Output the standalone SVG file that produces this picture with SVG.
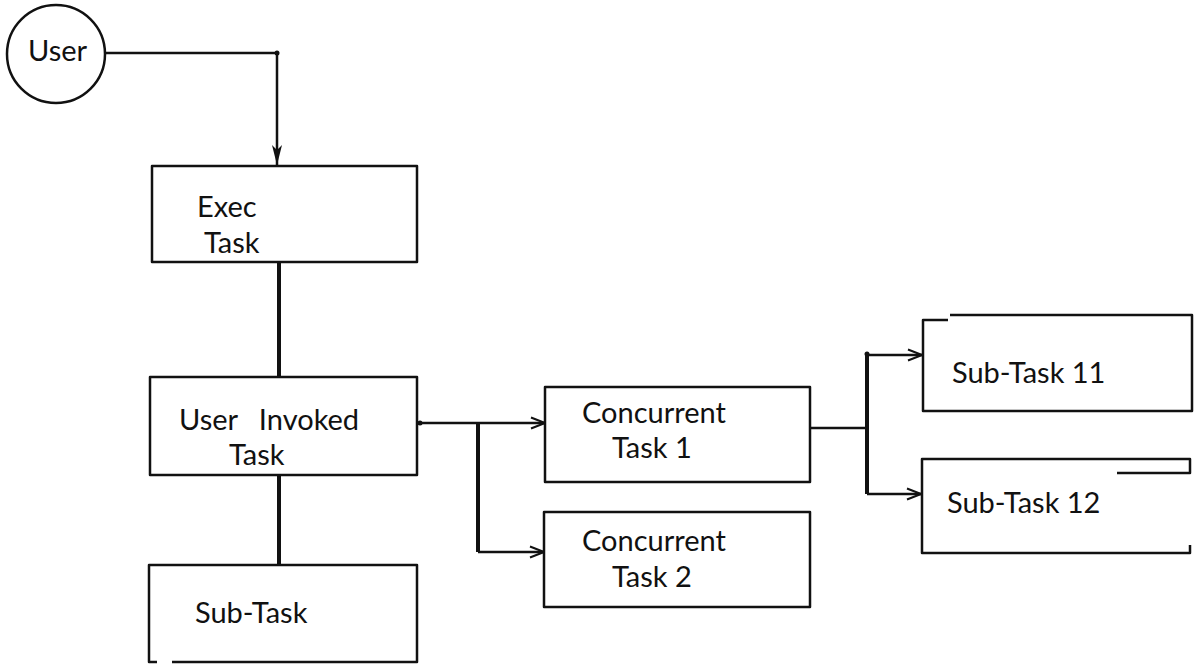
<svg xmlns="http://www.w3.org/2000/svg" width="1197" height="665" viewBox="0 0 1197 665">
  <defs>
    <marker id="open" viewBox="0 0 16 14" refX="15" refY="7" markerWidth="16" markerHeight="14" markerUnits="userSpaceOnUse" orient="auto">
      <path d="M1,1.5 L15,7 L1,12.5" fill="none" stroke="#111" stroke-width="2"/>
    </marker>
    <marker id="solid" viewBox="0 0 20 12" refX="20" refY="6" markerWidth="20" markerHeight="12" markerUnits="userSpaceOnUse" orient="auto">
      <path d="M0,1 L20,6 L0,11 L5,6 Z" fill="#111"/>
    </marker>
  </defs>
  <style>
    .box { fill: none; stroke: #111; stroke-width: 2.5; stroke-linejoin: round; }
    .lbl { font-family: Lato, "Open Sans", "Liberation Sans", sans-serif; font-size: 29px; fill: #111; }
    .thin { fill: none; stroke: #111; stroke-width: 2.5; }
    .thick { fill: none; stroke: #111; stroke-width: 4; }
  </style>
  <rect width="1197" height="665" fill="#fff"/>

  <g id="connectors">
    <path class="thin" d="M106,53 H277 V165" marker-end="url(#solid)"/>
    <circle cx="277" cy="53" r="2.5" fill="#111"/>
    <path class="thick" d="M279,262 V377"/>
    <path class="thick" d="M279,475 V565"/>
    <path class="thin" d="M417,423 H545" marker-end="url(#open)"/>
    <circle cx="420" cy="423" r="2.5" fill="#111"/>
    <path class="thick" d="M478,423 V552"/>
    <path class="thin" d="M478,552 H544" marker-end="url(#open)"/>
    <path class="thin" d="M810,428 H867" stroke-width="3.5"/>
    <path class="thick" d="M867,355 V494"/>
    <path class="thin" d="M867,355 H922" marker-end="url(#open)"/>
    <circle cx="867" cy="354" r="2.5" fill="#111"/>
    <path class="thin" d="M867,494 H921" marker-end="url(#open)"/>
  </g>

  <g id="user">
    <circle cx="56" cy="54" r="49" fill="none" stroke="#111" stroke-width="2.5"/>
    <text class="lbl" x="28" y="61" font-size="25">User</text>
  </g>

  <g id="exec-task">
    <rect class="box" x="152" y="166" width="265" height="96"/>
    <text class="lbl" x="197" y="217">Exec</text>
    <text class="lbl" x="204" y="253">Task</text>
  </g>

  <g id="user-invoked-task">
    <rect class="box" x="150" y="377" width="267" height="98"/>
    <text class="lbl" x="179" y="430" word-spacing="14">User Invoked</text>
    <text class="lbl" x="229" y="465">Task</text>
  </g>

  <g id="sub-task">
    <path class="box" d="M157,662 H149 V565 H417 V662 H172"/>
    <text class="lbl" x="195" y="623">Sub-Task</text>
  </g>

  <g id="concurrent-task-1">
    <rect class="box" x="545" y="387" width="265" height="95"/>
    <text class="lbl" x="582" y="423">Concurrent</text>
    <text class="lbl" x="612" y="458">Task 1</text>
  </g>

  <g id="concurrent-task-2">
    <rect class="box" x="544" y="512" width="266" height="95"/>
    <text class="lbl" x="582" y="551">Concurrent</text>
    <text class="lbl" x="612" y="587">Task 2</text>
  </g>

  <g id="sub-task-11">
    <path class="box" d="M948,320 H923 V411 H1192 V315 H950"/>
    <text class="lbl" x="952" y="383">Sub-Task 11</text>
  </g>

  <g id="sub-task-12">
    <path class="box" d="M1117,473 H1190 V459 H922 V553 H1190 V545"/>
    <text class="lbl" x="947" y="513">Sub-Task 12</text>
  </g>
</svg>
